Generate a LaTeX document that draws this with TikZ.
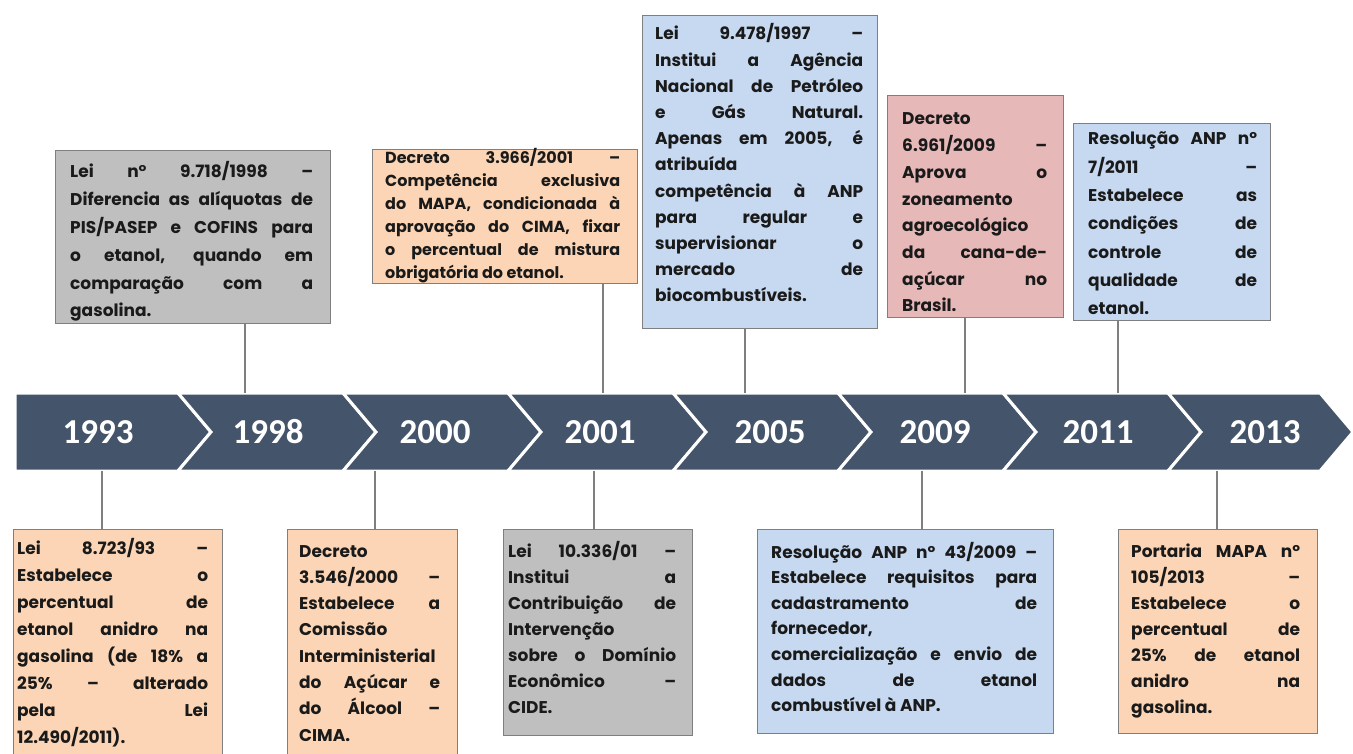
\documentclass[tikz,border=0pt]{standalone}
\usepackage{fontspec}
\usepackage{graphicx}
\setmainfont{Poppins}
\newfontfamily\yearfont{Carlito}
\definecolor{barc}{HTML}{44546A}
\definecolor{orangebox}{HTML}{FBD5B5}
\definecolor{graybox}{HTML}{BFBFBF}
\definecolor{bluebox}{HTML}{C6D9F1}
\definecolor{pinkbox}{HTML}{E6B9B8}
\definecolor{linec}{HTML}{7F7F7F}
\definecolor{txtc}{HTML}{1A1A1A}
\newcommand\JL[1]{\setbox0=\hbox{#1}\ifdim\wd0>\hsize\hbox{\resizebox{\hsize}{\height}{#1}}\else\hbox to\hsize{\spaceskip=.2em plus 1fil\relax#1}\fi}
\newcommand\LL[1]{\hbox{#1}}
\newcommand\TB[2]{\vtop{\hsize=#1\linewidth=#1\relax#2}}
\newcommand\tb[2]{\bfseries\fontsize{#1}{#2}\selectfont}
\begin{document}
\begin{tikzpicture}[x=1pt,y=-1pt,
  box/.style={draw=linec, line width=1.2pt, anchor=north west, inner sep=0pt},
  txt/.style={inner sep=0pt, anchor=base west, text=txtc},
  conn/.style={draw=linec, line width=1.4pt},
  year/.style={text=white, font=\yearfont\bfseries\fontsize{35}{35}\selectfont},
  seg/.style={fill=barc, draw=white, line width=3pt, line join=miter}]
\useasboundingbox (0,0) rectangle (1353,754);
\fill[white] (0,0) rectangle (1353,754);

% timeline bar
\fill[seg] (15,393) -- (178,393) -- (211,432) -- (178,471) -- (15,471) -- cycle;
\foreach \a/\b in {178/343,343/508,508/673,673/838,838/1003,1003/1168}{
  \fill[seg] (\a,393) -- (\b,393) -- (\b+33,432) -- (\b,471) -- (\a,471) -- (\a+33,432) -- cycle;}
\fill[seg] (1168,393) -- (1320,393) -- (1353,432) -- (1320,471) -- (1168,471) -- (1201,432) -- cycle;

\node[year] (y1993) at (98,432) {1993};
\node[year] (y1998) at (268,432) {1998};
\node[year] (y2000) at (435,432) {2000};
\node[year] (y2001) at (600,432) {2001};
\node[year] (y2005) at (770,432) {2005};
\node[year] (y2009) at (935,432) {2009};
\node[year] (y2011) at (1098,432) {2011};
\node[year] (y2013) at (1265,432) {2013};

% coordinates on the bar
\coordinate (bt1998) at (245,393);
\coordinate (bt2001) at (603,393);
\coordinate (bt2005) at (745,393);
\coordinate (bt2009) at (965,393);
\coordinate (bt2011) at (1118,393);
\coordinate (bb1993) at (102,471);
\coordinate (bb2000) at (375,471);
\coordinate (bb2001) at (594,471);
\coordinate (bb2009) at (922,471);
\coordinate (bb2013) at (1217,471);

% top boxes
\node[box, fill=graybox, minimum width=275pt, minimum height=173pt] (b1998) at (55,150) {};
\node[txt, font=\tb{17}{27.8}] (t1998) at (70,178) {\TB{243pt}{%
\JL{Lei n° 9.718/1998 –}\JL{Diferencia as alíquotas de}\JL{PIS/PASEP e COFINS para}\JL{o etanol, quando em}\JL{comparação com a}\LL{gasolina.}}};

\node[box, fill=orangebox, minimum width=265pt, minimum height=134pt] (b2001t) at (372,149) {};
\node[txt, font=\tb{16}{23}] (t2001t) at (385,164) {\TB{235pt}{%
\JL{Decreto 3.966/2001 –}\JL{Competência exclusiva}\JL{do MAPA, condicionada à}\JL{aprovação do CIMA, fixar}\JL{o percentual de mistura}\LL{obrigatória do etanol.}}};

\node[box, fill=bluebox, minimum width=235pt, minimum height=313pt] (b2005) at (642,15) {};
\node[txt, font=\tb{17}{26.2}] (t2005) at (655,40) {\TB{208pt}{%
\JL{Lei 9.478/1997 –}\JL{Institui a Agência}\JL{Nacional de Petróleo}\JL{e Gás Natural.}\JL{Apenas em 2005, é}\LL{atribuída}\JL{competência à ANP}\JL{para regular e}\JL{supervisionar o}\JL{mercado de}\LL{biocombustíveis.}}};

\node[box, fill=pinkbox, minimum width=176pt, minimum height=222pt] (b2009t) at (887,95) {};
\node[txt, font=\tb{17}{26.7}] (t2009t) at (902,125) {\TB{145pt}{%
\LL{Decreto}\JL{6.961/2009 –}\JL{Aprova o}\LL{zoneamento}\LL{agroecológico}\JL{da cana-de-}\JL{açúcar no}\LL{Brasil.}}};

\node[box, fill=bluebox, minimum width=197pt, minimum height=197pt] (b2011) at (1073,123) {};
\node[txt, font=\tb{17}{28.3}] (t2011) at (1088,145) {\TB{169pt}{%
\JL{Resolução ANP nº}\JL{7/2011 –}\JL{Estabelece as}\JL{condições de}\JL{controle de}\JL{qualidade de}\LL{etanol.}}};

% bottom boxes
\node[box, fill=orangebox, minimum width=209pt, minimum height=260pt] (b1993) at (13,529) {};
\node[txt, font=\tb{17}{27}] (t1993) at (17,554) {\TB{191pt}{%
\JL{Lei 8.723/93 –}\JL{Estabelece o}\JL{percentual de}\JL{etanol anidro na}\JL{gasolina (de 18\% a}\JL{25\% – alterado}\JL{pela Lei}\LL{12.490/2011).}}};

\node[box, fill=orangebox, minimum width=170pt, minimum height=260pt] (b2000) at (287,529) {};
\node[txt, font=\tb{17}{26.3}] (t2000) at (299,557) {\TB{141pt}{%
\LL{Decreto}\JL{3.546/2000 –}\JL{Estabelece a}\LL{Comissão}\LL{Interministerial}\JL{do Açúcar e}\JL{do Álcool –}\LL{CIMA.}}};

\node[box, fill=graybox, minimum width=189pt, minimum height=206pt] (b2001b) at (503,529) {};
\node[txt, font=\tb{17}{26}] (t2001b) at (508,557) {\TB{168pt}{%
\JL{Lei 10.336/01 –}\JL{Institui a}\JL{Contribuição de}\LL{Intervenção}\JL{sobre o Domínio}\JL{Econômico –}\LL{CIDE.}}};

\node[box, fill=bluebox, minimum width=296pt, minimum height=204pt] (b2009b) at (757,529) {};
\node[txt, font=\tb{17}{25.6}] (t2009b) at (771,558) {\TB{266pt}{%
\JL{Resolução ANP nº 43/2009 –}\JL{Estabelece requisitos para}\JL{cadastramento de}\LL{fornecedor,}\JL{comercialização e envio de}\JL{dados de etanol}\LL{combustível à ANP.}}};

\node[box, fill=orangebox, minimum width=199pt, minimum height=204pt] (b2013) at (1118,529) {};
\node[txt, font=\tb{17}{26}] (t2013) at (1131,557) {\TB{169pt}{%
\JL{Portaria MAPA nº}\JL{105/2013 –}\JL{Estabelece o}\JL{percentual de}\JL{25\% de etanol}\JL{anidro na}\LL{gasolina.}}};

% connectors
\draw[conn] (b1998.south -| bt1998) -- (bt1998);
\draw[conn] (b2001t.south -| bt2001) -- (bt2001);
\draw[conn] (b2005.south -| bt2005) -- (bt2005);
\draw[conn] (b2009t.south -| bt2009) -- (bt2009);
\draw[conn] (b2011.south -| bt2011) -- (bt2011);
\draw[conn] (bb1993) -- (b1993.north -| bb1993);
\draw[conn] (bb2000) -- (b2000.north -| bb2000);
\draw[conn] (bb2001) -- (b2001b.north -| bb2001);
\draw[conn] (bb2009) -- (b2009b.north -| bb2009);
\draw[conn] (bb2013) -- (b2013.north -| bb2013);
\end{tikzpicture}
\end{document}
